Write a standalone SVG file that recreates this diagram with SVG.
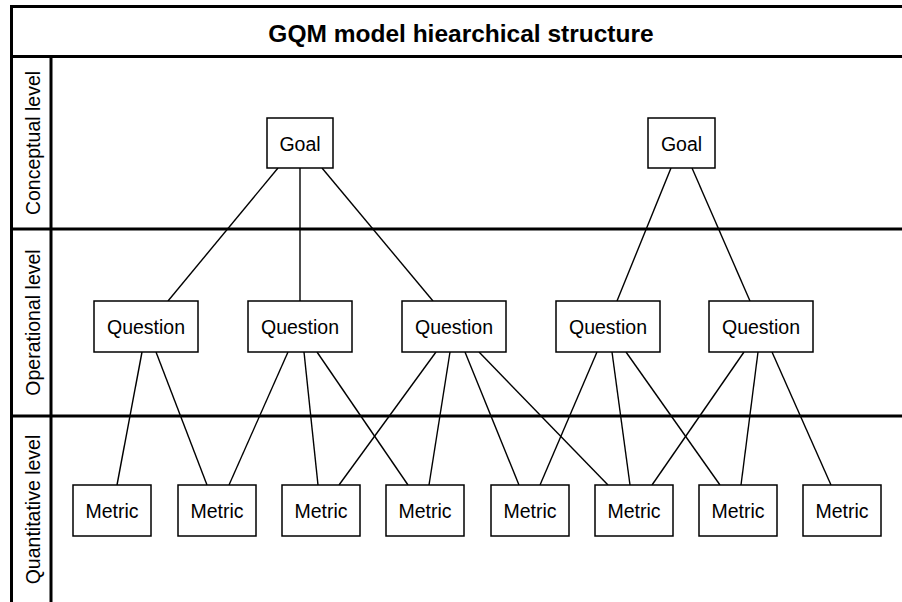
<svg xmlns="http://www.w3.org/2000/svg" width="902" height="602" viewBox="0 0 902 602">
  <style>
    .frame { stroke: #000; stroke-width: 3; fill: none; }
    .node rect { fill: #fff; stroke: #000; stroke-width: 1.5; }
    .node text, .lvl { font-family: "Liberation Sans", Arial, sans-serif; font-size: 19.5px; fill: #000; text-anchor: middle; }
    .title { font-family: "Liberation Sans", Arial, sans-serif; font-size: 24.5px; font-weight: bold; text-anchor: middle; fill: #000; }
    #connectors line { stroke: #000; stroke-width: 1.4; }
  </style>
  <rect width="902" height="602" fill="#fff"/>

  <!-- swimlane frame -->
  <g id="frame">
    <path class="frame" d="M902,6.5 H11.5 V602 M11.5,56.5 H902 M51,56.5 V602 M11.5,229 H902 M11.5,416 H902"/>
    <text class="title" x="461" y="41.5">GQM model hiearchical structure</text>
    <text class="lvl" transform="translate(40,143) rotate(-90)">Conceptual level</text>
    <text class="lvl" transform="translate(40,322.5) rotate(-90)">Operational level</text>
    <text class="lvl" transform="translate(40,509.5) rotate(-90)">Quantitative level</text>
  </g>

  <g id="connectors">
    <line x1="278" y1="168" x2="168" y2="301"/>
    <line x1="300" y1="168" x2="300" y2="301"/>
    <line x1="322" y1="168" x2="433" y2="301"/>
    <line x1="671" y1="168" x2="617" y2="301"/>
    <line x1="692" y1="168" x2="750" y2="301"/>
    <line x1="142" y1="352" x2="117" y2="485"/>
    <line x1="156" y1="352" x2="207" y2="485"/>
    <line x1="288" y1="352" x2="229" y2="485"/>
    <line x1="304" y1="352" x2="318" y2="485"/>
    <line x1="317" y1="352" x2="408" y2="485"/>
    <line x1="436" y1="352" x2="339" y2="485"/>
    <line x1="450" y1="352" x2="429" y2="485"/>
    <line x1="465" y1="352" x2="519" y2="485"/>
    <line x1="479" y1="352" x2="608" y2="485"/>
    <line x1="597" y1="352" x2="540" y2="485"/>
    <line x1="612" y1="352" x2="630" y2="485"/>
    <line x1="626" y1="352" x2="720" y2="485"/>
    <line x1="744" y1="352" x2="652" y2="485"/>
    <line x1="758" y1="352" x2="741" y2="485"/>
    <line x1="772" y1="352" x2="831" y2="485"/>
  </g>

  <!-- goals -->
  <g id="goal1" class="node"><rect x="267" y="118" width="66" height="50"/><text x="300" y="150.5">Goal</text></g>
  <g id="goal2" class="node"><rect x="648" y="118" width="67" height="50"/><text x="681.5" y="150.5">Goal</text></g>

  <!-- questions -->
  <g id="question1" class="node"><rect x="94" y="301" width="104" height="51"/><text x="146" y="334">Question</text></g>
  <g id="question2" class="node"><rect x="248" y="301" width="104" height="51"/><text x="300" y="334">Question</text></g>
  <g id="question3" class="node"><rect x="402" y="301" width="104" height="51"/><text x="454" y="334">Question</text></g>
  <g id="question4" class="node"><rect x="556" y="301" width="104" height="51"/><text x="608" y="334">Question</text></g>
  <g id="question5" class="node"><rect x="709" y="301" width="104" height="51"/><text x="761" y="334">Question</text></g>

  <!-- metrics -->
  <g id="metric1" class="node"><rect x="73" y="485" width="78" height="51"/><text x="112" y="518">Metric</text></g>
  <g id="metric2" class="node"><rect x="178" y="485" width="78" height="51"/><text x="217" y="518">Metric</text></g>
  <g id="metric3" class="node"><rect x="282" y="485" width="78" height="51"/><text x="321" y="518">Metric</text></g>
  <g id="metric4" class="node"><rect x="386" y="485" width="78" height="51"/><text x="425" y="518">Metric</text></g>
  <g id="metric5" class="node"><rect x="491" y="485" width="78" height="51"/><text x="530" y="518">Metric</text></g>
  <g id="metric6" class="node"><rect x="595" y="485" width="78" height="51"/><text x="634" y="518">Metric</text></g>
  <g id="metric7" class="node"><rect x="699" y="485" width="78" height="51"/><text x="738" y="518">Metric</text></g>
  <g id="metric8" class="node"><rect x="803" y="485" width="78" height="51"/><text x="842" y="518">Metric</text></g>
</svg>
